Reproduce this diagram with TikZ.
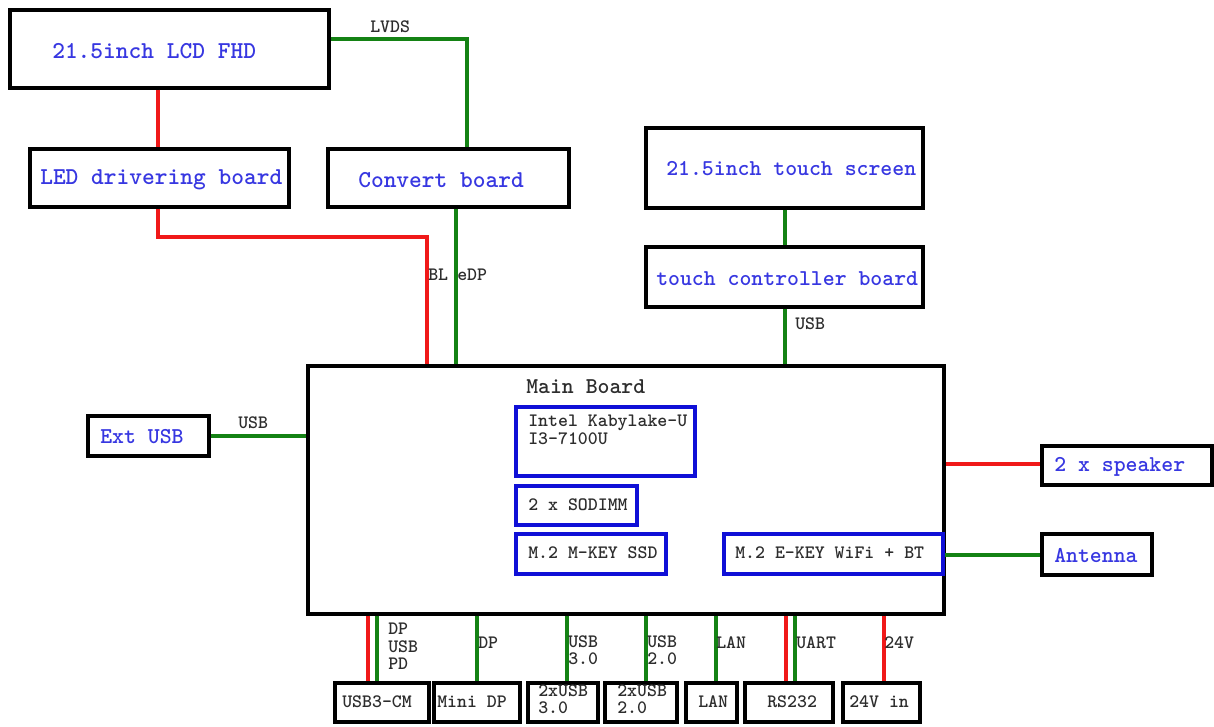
\documentclass[tikz,border=0pt]{standalone}
\usepackage{fontspec}
\definecolor{wgreen}{RGB}{20,130,20}
\definecolor{wred}{RGB}{240,25,25}
\definecolor{tblue}{RGB}{55,55,225}
\definecolor{bblue}{RGB}{15,15,215}
\definecolor{lgray}{RGB}{45,45,45}
\newcommand\mkbox[6]{\node[#1, minimum width={(#5-#3)*0.75pt}, minimum height={(#6-#4)*0.75pt}] (#2) at ({(#3+#5)/2},{(#4+#6)/2}) {};}
\tikzset{
  box/.style={draw=black, line width=2.3pt, inner sep=0pt, rectangle},
  bbox/.style={draw=bblue, line width=2.3pt, inner sep=0pt, rectangle},
  bigtxt/.style={text=tblue, anchor=west, inner sep=0pt, font=\ttfamily\bfseries\fontsize{18.2}{21}\selectfont},
  btxt/.style={text=tblue, anchor=west, inner sep=0pt, font=\ttfamily\bfseries\fontsize{17}{20}\selectfont},
  ktxt/.style={text=lgray, anchor=west, inner sep=0pt, align=left, font=\ttfamily\bfseries\fontsize{14.2}{13}\selectfont},
  mtxt/.style={text=lgray, anchor=west, inner sep=0pt, font=\ttfamily\bfseries\fontsize{17}{20}\selectfont},
  gl/.style={draw=wgreen, line width=2.3pt},
  rl/.style={draw=wred, line width=2.3pt},
}
\begin{document}
\begin{tikzpicture}[x=0.75pt, y=-0.75pt]
\useasboundingbox (0,0) rectangle (1214,726);
% boxes
\mkbox{box}{lcd}{10}{10}{329}{88}
\mkbox{box}{led}{30}{149}{289}{207}
\mkbox{box}{conv}{328}{149}{569}{207}
\mkbox{box}{ts}{646}{128}{923}{208}
\mkbox{box}{tc}{646}{247}{923}{307}
\mkbox{box}{main}{308}{366}{944}{614}
\mkbox{box}{ext}{88}{416}{209}{456}
\mkbox{box}{spk}{1042}{446}{1212}{485}
\mkbox{box}{ant}{1042}{534}{1152}{575}
\mkbox{bbox}{cpu}{516}{407}{695}{476}
\mkbox{bbox}{ram}{516}{486}{637}{525}
\mkbox{bbox}{ssd}{516}{534}{666}{574}
\mkbox{bbox}{wifi}{724}{534}{943}{574}
\mkbox{box}{ucm}{335}{683}{429}{722}
\mkbox{box}{mdp}{434}{683}{520}{722}
\mkbox{box}{u3}{528}{683}{598}{722}
\mkbox{box}{u2}{605}{683}{677}{722}
\mkbox{box}{lan}{686}{683}{737}{722}
\mkbox{box}{rs}{745}{683}{833}{722}
\mkbox{box}{pwr}{843}{683}{920}{722}
% connectors
\draw[rl] (158,0 |- lcd.south) -- (158,0 |- led.north);
\draw[gl] (lcd.east |- 0,39) -- (467,39) -- (467,0 |- conv.north);
\draw[rl] (158,0 |- led.south) -- (158,237) -- (427,237) -- (427,0 |- main.north);
\draw[gl] (456,0 |- conv.south) -- (456,0 |- main.north);
\draw[gl] (785,0 |- ts.south) -- (785,0 |- tc.north);
\draw[gl] (785,0 |- tc.south) -- (785,0 |- main.north);
\draw[gl] (ext.east |- 0,436) -- (main.west |- 0,436);
\draw[rl] (main.east |- 0,464) -- (spk.west |- 0,464);
\draw[gl] (wifi.east |- 0,555) -- (ant.west |- 0,555);
\draw[rl] (368,0 |- main.south) -- (368,0 |- ucm.north);
\draw[gl] (377,0 |- main.south) -- (377,0 |- ucm.north);
\draw[gl] (477,0 |- main.south) -- (477,0 |- mdp.north);
\draw[gl] (567,0 |- main.south) -- (567,0 |- u3.north);
\draw[gl] (646,0 |- main.south) -- (646,0 |- u2.north);
\draw[gl] (716,0 |- main.south) -- (716,0 |- lan.north);
\draw[rl] (786,0 |- main.south) -- (786,0 |- rs.north);
\draw[gl] (795,0 |- main.south) -- (795,0 |- rs.north);
\draw[rl] (884,0 |- main.south) -- (884,0 |- pwr.north);
% box texts
\node[bigtxt] (lcdt) at (52,51) {21.5inch LCD FHD};
\node[bigtxt] (ledt) at (40,180) {LED drivering board};
\node[bigtxt] (convt) at (358,180) {Convert board};
\node[btxt] (tst) at (666,169) {21.5inch touch screen};
\node[btxt] (tct) at (656,279) {touch controller board};
\node[btxt] (extt) at (100,437) {Ext USB};
\node[btxt] (spkt) at (1054,467) {2 x speaker};
\node[btxt] (antt) at (1054,555) {Antenna};
\node[mtxt] (maint) at (526,387) {Main Board};
\node[ktxt, anchor=north west] (cput) at (528,415) {Intel Kabylake-U\\I3-7100U};
\node[ktxt] (ramt) at (528,505) {2 x SODIMM};
\node[ktxt] (ssdt) at (528,553) {M.2 M-KEY SSD};
\node[ktxt] (wifit) at (735,553) {M.2 E-KEY WiFi + BT};
\node[ktxt] (ucmt) at (342,702) {USB3-CM};
\node[ktxt] (mdpt) at (437,702) {Mini DP};
\node[ktxt, anchor=north west] (u3t) at (538,684) {2xUSB\\3.0};
\node[ktxt, anchor=north west] (u2t) at (617,684) {2xUSB\\2.0};
\node[ktxt] (lant) at (698,702) {LAN};
\node[ktxt] (rst) at (767,702) {RS232};
\node[ktxt] (pwrt) at (849,702) {24V in};
% connector labels
\node[ktxt] (lvds) at (370,27) {LVDS};
\node[ktxt] (bl) at (428,275) {BL};
\node[ktxt] (edp) at (457,275) {eDP};
\node[ktxt] (usbt) at (795,324) {USB};
\node[ktxt] (usbe) at (238,423) {USB};
\node[ktxt, anchor=north west] (dpusb) at (388,623) {DP\\USB\\PD};
\node[ktxt] (dpl) at (478,643) {DP};
\node[ktxt, anchor=north west] (u3l) at (568,635) {USB\\3.0};
\node[ktxt, anchor=north west] (u2l) at (647,635) {USB\\2.0};
\node[ktxt] (lanl) at (716,643) {LAN};
\node[ktxt] (uart) at (796,643) {UART};
\node[ktxt] (v24) at (884,643) {24V};
\end{tikzpicture}
\end{document}
